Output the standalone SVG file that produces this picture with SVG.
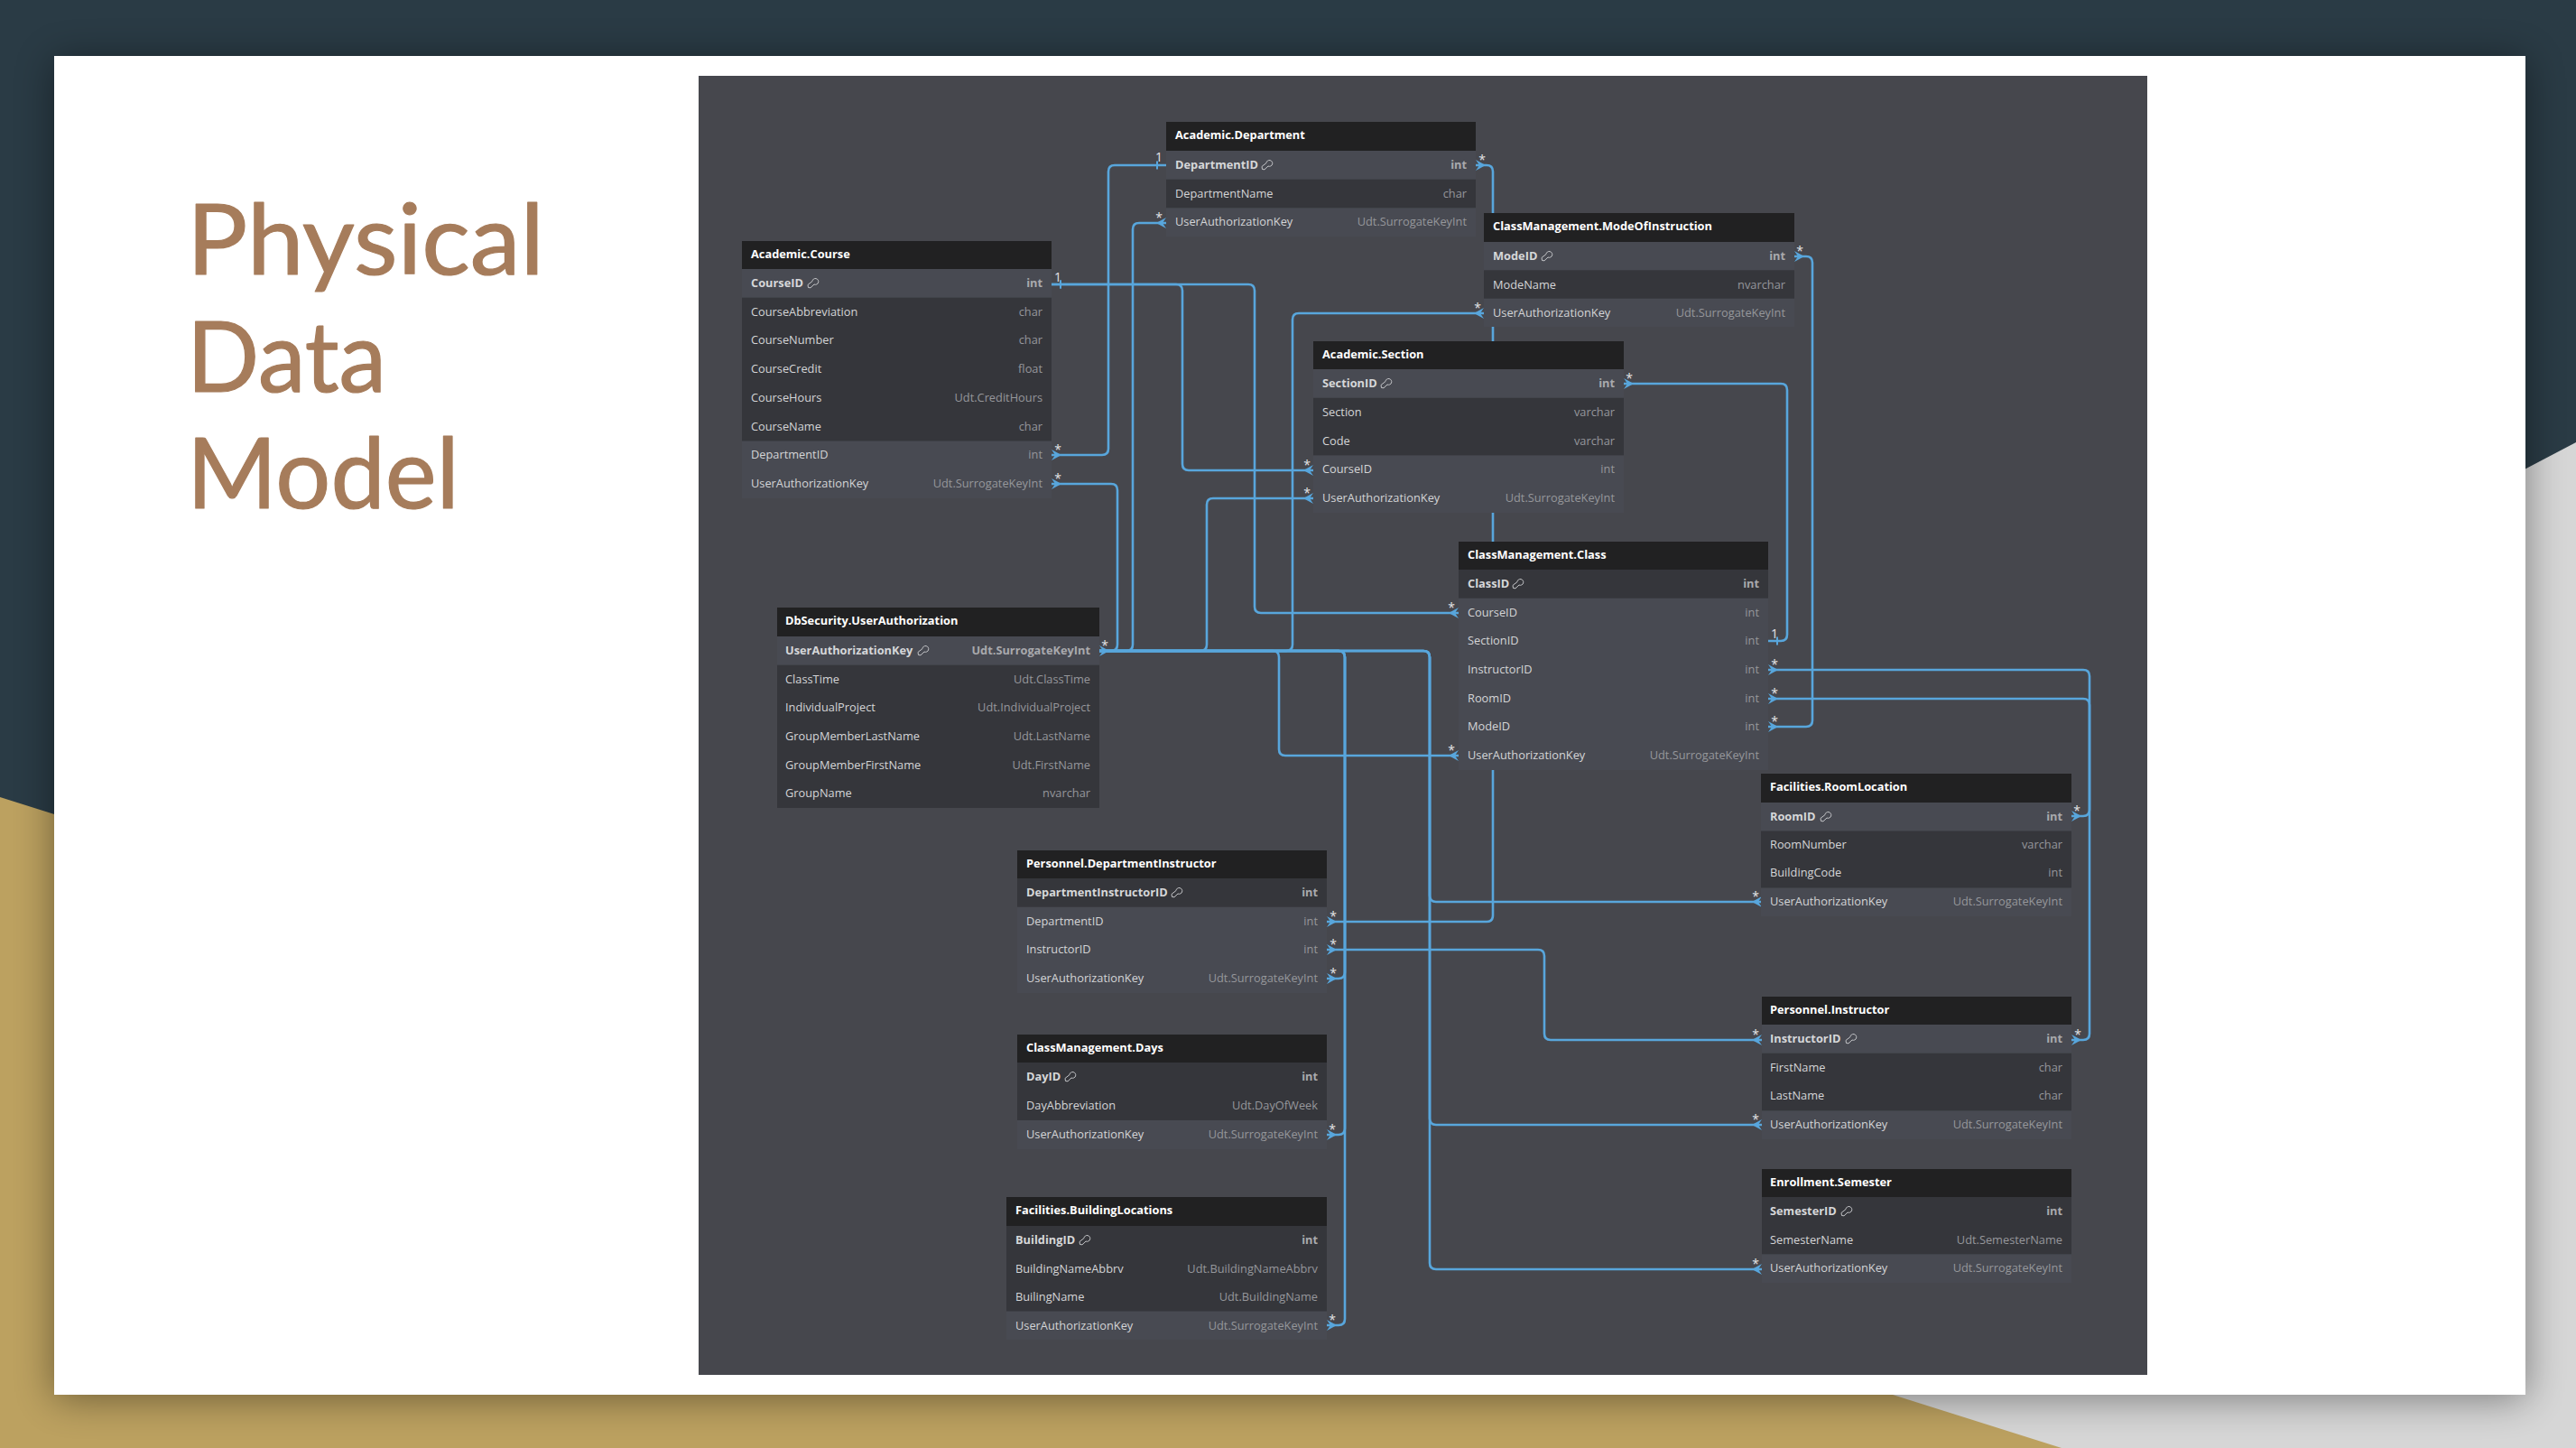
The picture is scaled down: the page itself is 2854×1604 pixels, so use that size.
<svg xmlns="http://www.w3.org/2000/svg" width="2854" height="1604" viewBox="0 0 2854 1604">
<defs>
<filter id="sh" x="-5%" y="-8%" width="110%" height="116%"><feGaussianBlur stdDeviation="22"/></filter>
<marker id="crow" markerUnits="userSpaceOnUse" viewBox="-12 -7 13 14" refX="0" refY="0" markerWidth="13" markerHeight="14" orient="auto-start-reverse"><polygon points="-11,0 0,-6 -4,0 0,6" fill="#58a6dc"/></marker>
<marker id="one" markerUnits="userSpaceOnUse" viewBox="-12 -7 13 14" refX="0" refY="0" markerWidth="13" markerHeight="14" orient="auto-start-reverse"><path d="M-10,-4.5V4.5" stroke="#58a6dc" stroke-width="2" fill="none"/></marker>
<symbol id="key" viewBox="-7 -7 14 14" width="14" height="14" overflow="visible"><path d="M-4.5,5.5 L-5,2.5 L0,-1.5 A3.4,3.4 0 1 1 2,2 L-2,5.8 Z" fill="none" stroke="#c4c5c8" stroke-width="1"/></symbol>
</defs>
<style>
text{font-family:"Open Sans","Noto Sans","Liberation Sans",sans-serif;font-size:12.8px}
.h{fill:#212122}.d{fill:#35363b}.l{fill:#484a52}
.ht{fill:#fff;font-weight:700;transform:translateY(-1px)}
.n{fill:#d4d5d7;transform:translateY(-1px)}.t{fill:#96979b;text-anchor:end;transform:translateY(-1px)}
.pn{fill:#d6d7d9;font-weight:700;transform:translateY(-1px)}.pt{fill:#a8a9ad;font-weight:700;text-anchor:end;transform:translateY(-1px)}
.c{fill:none;stroke:#58a6dc;stroke-width:2.6;marker-end:url(#crow)}
.b{marker-start:url(#crow)}
.o{marker-start:url(#one)}
.oe{marker-end:url(#one)}
.m{fill:#e4e4e6;text-anchor:middle;font-size:14px}
.title{font-family:Lato,"Open Sans",sans-serif;font-size:108px;fill:#a67c5b;stroke:#a67c5b;stroke-width:1.2px;stroke-linejoin:round}
</style>
<g id="background">
<rect width="2854" height="1604" fill="#2a3b45"/>
<polygon points="2854,490 2854,1604 2284,1604 1500,1604 1500,1200" fill="#d6d6d6"/>
<polygon points="0,883 2284,1604 0,1604" fill="#bca160"/>
<rect x="60" y="66" width="2738" height="1483" fill="#000" opacity="0.42" filter="url(#sh)"/>
<rect x="60" y="62" width="2738" height="1483" fill="#fff"/>
<rect x="774" y="84" width="1605" height="1439" fill="#46474d"/>
</g>
<g id="title">
<text class="title" x="207" y="304" textLength="396" lengthAdjust="spacingAndGlyphs">Physical</text>
<text class="title" x="207" y="433.5" textLength="221" lengthAdjust="spacingAndGlyphs">Data</text>
<text class="title" x="207" y="563" textLength="302" lengthAdjust="spacingAndGlyphs">Model</text>
</g>
<g id="connectors">
<path class="c o" d="M1165,315H1303Q1310,315 1310,322V514Q1310,521 1317,521H1455"/>
<path class="c o" d="M1165,315H1383Q1390,315 1390,322V672Q1390,679 1397,679H1616"/>
<path class="c o" d="M1292,183H1235Q1228,183 1228,190V497Q1228,504 1221,504H1165"/>
<path class="c b" d="M1635,183H1647Q1654,183 1654,190V1014Q1654,1021 1647,1021H1470"/>
<path class="c b" d="M1988,284H2001Q2008,284 2008,291V798Q2008,805 2001,805H1959"/>
<path class="c b oe" d="M1799,425H1973Q1980,425 1980,432V703Q1980,710 1973,710H1959"/>
<path class="c b" d="M1959,742H2308Q2315,742 2315,749V1145Q2315,1152 2308,1152H2295"/>
<path class="c b" d="M1959,774H2308Q2315,774 2315,781V897Q2315,904 2308,904H2295"/>
<path class="c b" d="M1470,1052H1704Q1711,1052 1711,1059V1145Q1711,1152 1718,1152H1952"/>
<path class="c" d="M1218,721H1231Q1238,721 1238,714V543Q1238,536 1231,536H1165"/>
<path class="c" d="M1218,721H1248Q1255,721 1255,714V254Q1255,247 1262,247H1292"/>
<path class="c" d="M1218,721H1330Q1337,721 1337,714V559Q1337,552 1344,552H1455"/>
<path class="c" d="M1218,721H1425Q1432,721 1432,714V354Q1432,347 1439,347H1644"/>
<path class="c b" d="M1218,721H1410Q1417,721 1417,728V830Q1417,837 1424,837H1616"/>
<path class="c" d="M1218,721H1483Q1490,721 1490,728V1077Q1490,1084 1483,1084H1470"/>
<path class="c" d="M1218,721H1483Q1490,721 1490,728V1250Q1490,1257 1483,1257H1470"/>
<path class="c" d="M1218,721H1483Q1490,721 1490,728V1461Q1490,1468 1483,1468H1470"/>
<path class="c" d="M1218,721H1577Q1584,721 1584,728V992Q1584,999 1591,999H1952"/>
<path class="c" d="M1218,721H1577Q1584,721 1584,728V1239Q1584,1246 1591,1246H1952"/>
<path class="c" d="M1218,721H1577Q1584,721 1584,728V1399Q1584,1406 1591,1406H1952"/>
<g id="multiplicities">
<text class="m" x="1284" y="179">1</text><text class="m" x="1172" y="312">1</text><text class="m" x="1966" y="707">1</text>
<text class="m" x="1172" y="503">*</text><text class="m" x="1172" y="535">*</text>
<text class="m" x="1642" y="182">*</text><text class="m" x="1994" y="283">*</text><text class="m" x="1637" y="346">*</text>
<text class="m" x="1805" y="424">*</text><text class="m" x="1448" y="520">*</text><text class="m" x="1448" y="551">*</text>
<text class="m" x="1284" y="246">*</text><text class="m" x="1224" y="720">*</text>
<text class="m" x="1477" y="1020">*</text><text class="m" x="1477" y="1051">*</text><text class="m" x="1477" y="1083">*</text>
<text class="m" x="1608" y="678">*</text><text class="m" x="1608" y="836">*</text>
<text class="m" x="1966" y="741">*</text><text class="m" x="1966" y="773">*</text><text class="m" x="1966" y="804">*</text>
<text class="m" x="2301" y="903">*</text><text class="m" x="1945" y="998">*</text>
<text class="m" x="1945" y="1151">*</text><text class="m" x="1945" y="1245">*</text><text class="m" x="2302" y="1151">*</text>
<text class="m" x="1945" y="1405">*</text><text class="m" x="1476" y="1256">*</text><text class="m" x="1476" y="1467">*</text>
</g>
</g>
<g id="Academic.Course">
<rect class="d" x="822" y="298" width="343" height="254"/><rect class="h" x="822" y="267" width="343" height="31"/>
<rect class="l" x="822" y="298" width="343" height="31.7"/><rect class="l" x="822" y="488.5" width="343" height="63.5"/>
<text class="ht" x="832" y="287">Academic.Course</text>
<text class="pn" x="832" y="319">CourseID</text><use href="#key" x="893" y="306"/><text class="pt" x="1155" y="319">int</text>
<text class="n" x="832" y="350.6">CourseAbbreviation</text><text class="t" x="1155" y="350.6">char</text>
<text class="n" x="832" y="382.4">CourseNumber</text><text class="t" x="1155" y="382.4">char</text>
<text class="n" x="832" y="414.1">CourseCredit</text><text class="t" x="1155" y="414.1">float</text>
<text class="n" x="832" y="445.9">CourseHours</text><text class="t" x="1155" y="445.9">Udt.CreditHours</text>
<text class="n" x="832" y="477.6">CourseName</text><text class="t" x="1155" y="477.6">char</text>
<text class="n" x="832" y="509.4">DepartmentID</text><text class="t" x="1155" y="509.4">int</text>
<text class="n" x="832" y="541.1">UserAuthorizationKey</text><text class="t" x="1155" y="541.1">Udt.SurrogateKeyInt</text>
</g>
<g id="Academic.Department">
<rect class="d" x="1292" y="167" width="343" height="95"/><rect class="h" x="1292" y="135" width="343" height="32"/>
<rect class="l" x="1292" y="167" width="343" height="31.7"/><rect class="l" x="1292" y="230.3" width="343" height="31.7"/>
<text class="ht" x="1302" y="155">Academic.Department</text>
<text class="pn" x="1302" y="188">DepartmentID</text><use href="#key" x="1396" y="175"/><text class="pt" x="1625" y="188">int</text>
<text class="n" x="1302" y="219.5">DepartmentName</text><text class="t" x="1625" y="219.5">char</text>
<text class="n" x="1302" y="251">UserAuthorizationKey</text><text class="t" x="1625" y="251">Udt.SurrogateKeyInt</text>
</g>
<g id="ClassManagement.ModeOfInstruction">
<rect class="d" x="1644" y="268" width="344" height="94"/><rect class="h" x="1644" y="236" width="344" height="32"/>
<rect class="l" x="1644" y="268" width="344" height="31.3"/><rect class="l" x="1644" y="330.7" width="344" height="31.3"/>
<text class="ht" x="1654" y="256">ClassManagement.ModeOfInstruction</text>
<text class="pn" x="1654" y="289">ModeID</text><use href="#key" x="1706" y="276"/><text class="pt" x="1978" y="289">int</text>
<text class="n" x="1654" y="320.5">ModeName</text><text class="t" x="1978" y="320.5">nvarchar</text>
<text class="n" x="1654" y="352">UserAuthorizationKey</text><text class="t" x="1978" y="352">Udt.SurrogateKeyInt</text>
</g>
<g id="Academic.Section">
<rect class="d" x="1455" y="409" width="344" height="159"/><rect class="h" x="1455" y="378" width="344" height="31"/>
<rect class="l" x="1455" y="409" width="344" height="31.8"/><rect class="l" x="1455" y="504.4" width="344" height="63.6"/>
<text class="ht" x="1465" y="398">Academic.Section</text>
<text class="pn" x="1465" y="430">SectionID</text><use href="#key" x="1528" y="417"/><text class="pt" x="1789" y="430">int</text>
<text class="n" x="1465" y="461.7">Section</text><text class="t" x="1789" y="461.7">varchar</text>
<text class="n" x="1465" y="493.5">Code</text><text class="t" x="1789" y="493.5">varchar</text>
<text class="n" x="1465" y="525.3">CourseID</text><text class="t" x="1789" y="525.3">int</text>
<text class="n" x="1465" y="557">UserAuthorizationKey</text><text class="t" x="1789" y="557">Udt.SurrogateKeyInt</text>
</g>
<g id="DbSecurity.UserAuthorization">
<rect class="d" x="861" y="705" width="357" height="190"/><rect class="h" x="861" y="673" width="357" height="32"/>
<rect class="l" x="861" y="705" width="357" height="31.7"/>
<text class="ht" x="870" y="693">DbSecurity.UserAuthorization</text>
<text class="pn" x="870" y="726">UserAuthorizationKey</text><use href="#key" x="1015" y="713"/><text class="pt" x="1208" y="726">Udt.SurrogateKeyInt</text>
<text class="n" x="870" y="757.5">ClassTime</text><text class="t" x="1208" y="757.5">Udt.ClassTime</text>
<text class="n" x="870" y="789">IndividualProject</text><text class="t" x="1208" y="789">Udt.IndividualProject</text>
<text class="n" x="870" y="821">GroupMemberLastName</text><text class="t" x="1208" y="821">Udt.LastName</text>
<text class="n" x="870" y="852.5">GroupMemberFirstName</text><text class="t" x="1208" y="852.5">Udt.FirstName</text>
<text class="n" x="870" y="884">GroupName</text><text class="t" x="1208" y="884">nvarchar</text>
</g>
<g id="Personnel.DepartmentInstructor">
<rect class="l" x="1127" y="973" width="343" height="127"/><rect class="h" x="1127" y="942" width="343" height="31"/>
<rect class="d" x="1127" y="973" width="343" height="31.7"/>
<text class="ht" x="1137" y="962">Personnel.DepartmentInstructor</text>
<text class="pn" x="1137" y="994">DepartmentInstructorID</text><use href="#key" x="1296" y="981"/><text class="pt" x="1460" y="994">int</text>
<text class="n" x="1137" y="1025.6">DepartmentID</text><text class="t" x="1460" y="1025.6">int</text>
<text class="n" x="1137" y="1057.4">InstructorID</text><text class="t" x="1460" y="1057.4">int</text>
<text class="n" x="1137" y="1089">UserAuthorizationKey</text><text class="t" x="1460" y="1089">Udt.SurrogateKeyInt</text>
</g>
<g id="ClassManagement.Class">
<rect class="l" x="1616" y="631" width="343" height="222"/><rect class="h" x="1616" y="600" width="343" height="31"/>
<rect class="d" x="1616" y="631" width="343" height="31.7"/>
<text class="ht" x="1626" y="620">ClassManagement.Class</text>
<text class="pn" x="1626" y="652">ClassID</text><use href="#key" x="1674" y="639"/><text class="pt" x="1949" y="652">int</text>
<text class="n" x="1626" y="683.6">CourseID</text><text class="t" x="1949" y="683.6">int</text>
<text class="n" x="1626" y="715.3">SectionID</text><text class="t" x="1949" y="715.3">int</text>
<text class="n" x="1626" y="747">InstructorID</text><text class="t" x="1949" y="747">int</text>
<text class="n" x="1626" y="778.7">RoomID</text><text class="t" x="1949" y="778.7">int</text>
<text class="n" x="1626" y="810.4">ModeID</text><text class="t" x="1949" y="810.4">int</text>
<text class="n" x="1626" y="842">UserAuthorizationKey</text><text class="t" x="1949" y="842">Udt.SurrogateKeyInt</text>
</g>
<g id="Facilities.RoomLocation">
<rect class="d" x="1951" y="889" width="344" height="126"/><rect class="h" x="1951" y="857" width="344" height="32"/>
<rect class="l" x="1951" y="889" width="344" height="31.5"/><rect class="l" x="1951" y="983.5" width="344" height="31.5"/>
<text class="ht" x="1961" y="877">Facilities.RoomLocation</text>
<text class="pn" x="1961" y="910">RoomID</text><use href="#key" x="2015" y="897"/><text class="pt" x="2285" y="910">int</text>
<text class="n" x="1961" y="940.7">RoomNumber</text><text class="t" x="2285" y="940.7">varchar</text>
<text class="n" x="1961" y="972.2">BuildingCode</text><text class="t" x="2285" y="972.2">int</text>
<text class="n" x="1961" y="1004">UserAuthorizationKey</text><text class="t" x="2285" y="1004">Udt.SurrogateKeyInt</text>
</g>
<g id="ClassManagement.Days">
<rect class="d" x="1127" y="1177" width="343" height="96"/><rect class="h" x="1127" y="1146" width="343" height="31"/>
<rect class="l" x="1127" y="1241" width="343" height="32"/>
<text class="ht" x="1137" y="1166">ClassManagement.Days</text>
<text class="pn" x="1137" y="1198">DayID</text><use href="#key" x="1178" y="1185"/><text class="pt" x="1460" y="1198">int</text>
<text class="n" x="1137" y="1230">DayAbbreviation</text><text class="t" x="1460" y="1230">Udt.DayOfWeek</text>
<text class="n" x="1137" y="1262">UserAuthorizationKey</text><text class="t" x="1460" y="1262">Udt.SurrogateKeyInt</text>
</g>
<g id="Facilities.BuildingLocations">
<rect class="d" x="1115" y="1358" width="355" height="126"/><rect class="h" x="1115" y="1326" width="355" height="32"/>
<rect class="l" x="1115" y="1452.5" width="355" height="31.5"/>
<text class="ht" x="1125" y="1346">Facilities.BuildingLocations</text>
<text class="pn" x="1125" y="1379">BuildingID</text><use href="#key" x="1194" y="1366"/><text class="pt" x="1460" y="1379">int</text>
<text class="n" x="1125" y="1410.5">BuildingNameAbbrv</text><text class="t" x="1460" y="1410.5">Udt.BuildingNameAbbrv</text>
<text class="n" x="1125" y="1442">BuilingName</text><text class="t" x="1460" y="1442">Udt.BuildingName</text>
<text class="n" x="1125" y="1473.5">UserAuthorizationKey</text><text class="t" x="1460" y="1473.5">Udt.SurrogateKeyInt</text>
</g>
<g id="Personnel.Instructor">
<rect class="d" x="1952" y="1135" width="343" height="127"/><rect class="h" x="1952" y="1104" width="343" height="31"/>
<rect class="l" x="1952" y="1135" width="343" height="31.7"/><rect class="l" x="1952" y="1230.3" width="343" height="31.7"/>
<text class="ht" x="1961" y="1124">Personnel.Instructor</text>
<text class="pn" x="1961" y="1156">InstructorID</text><use href="#key" x="2043" y="1143"/><text class="pt" x="2285" y="1156">int</text>
<text class="n" x="1961" y="1187.6">FirstName</text><text class="t" x="2285" y="1187.6">char</text>
<text class="n" x="1961" y="1219.4">LastName</text><text class="t" x="2285" y="1219.4">char</text>
<text class="n" x="1961" y="1251">UserAuthorizationKey</text><text class="t" x="2285" y="1251">Udt.SurrogateKeyInt</text>
</g>
<g id="Enrollment.Semester">
<rect class="d" x="1952" y="1326" width="343" height="95"/><rect class="h" x="1952" y="1295" width="343" height="31"/>
<rect class="l" x="1952" y="1389.3" width="343" height="31.7"/>
<text class="ht" x="1961" y="1315">Enrollment.Semester</text>
<text class="pn" x="1961" y="1347">SemesterID</text><use href="#key" x="2038" y="1334"/><text class="pt" x="2285" y="1347">int</text>
<text class="n" x="1961" y="1378.5">SemesterName</text><text class="t" x="2285" y="1378.5">Udt.SemesterName</text>
<text class="n" x="1961" y="1410">UserAuthorizationKey</text><text class="t" x="2285" y="1410">Udt.SurrogateKeyInt</text>
</g>
</svg>
